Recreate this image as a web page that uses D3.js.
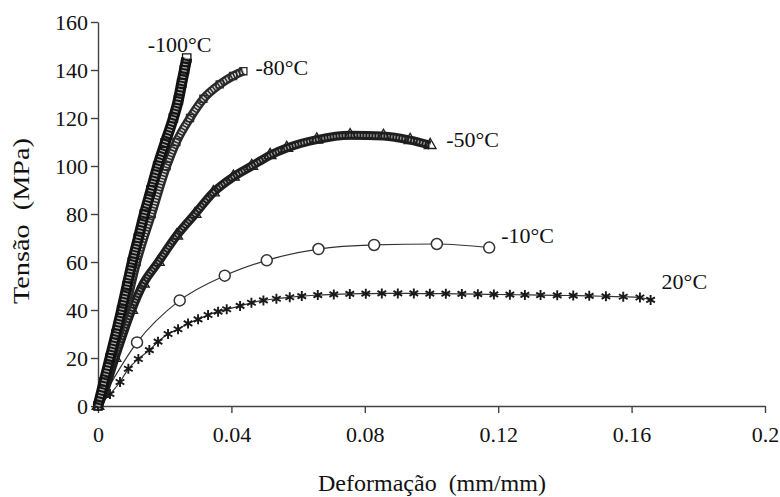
<!DOCTYPE html>
<html>
<head>
<meta charset="utf-8">
<script src="https://cdn.jsdelivr.net/npm/d3@7"></script>
<style>
  html, body { margin: 0; padding: 0; background: #fff; }
  svg { display: block; font-family: "Liberation Serif", "DejaVu Serif", serif; }
</style>
</head>
<body>
<svg id="chart" width="780" height="497"></svg>
<script>
// strain (mm/mm) and stress (MPa)
var strainM100 = [0, 0.0018, 0.0036, 0.0054, 0.0071, 0.0087, 0.0103, 0.0121, 0.0139, 0.0159, 0.0179, 0.0201, 0.0226, 0.0241, 0.0251, 0.0259, 0.0266];
var stressM100 = [0, 10, 20, 30, 40, 50, 60, 70, 80, 90, 100, 109.5, 120, 127.5, 134.5, 140, 145];

var strainM80 = [0, 0.0041, 0.0081, 0.0116, 0.0161, 0.0206, 0.0235, 0.0276, 0.0316, 0.0365, 0.0405, 0.0436];
var stressM80 = [0, 20, 40, 60, 80, 100, 110, 120, 128, 134, 137.5, 139.5];

var strainM50 = [0, 0.0016, 0.0051, 0.0101, 0.0136, 0.0181, 0.0236, 0.0291, 0.0346, 0.0406, 0.0461, 0.0516, 0.0566, 0.0656, 0.0756, 0.0856, 0.0936, 0.0996];
var stressM50 = [0, 5, 20, 40, 51, 60, 71, 80, 89, 95.5, 100, 104.5, 107.5, 111, 112.8, 112.5, 110.8, 108.7];

var strainM10 = [0, 0.0117, 0.0245, 0.038, 0.0506, 0.0661, 0.0828, 0.1016, 0.1173];
var stressM10 = [0, 26.5, 44, 54.3, 60.7, 65.4, 67.1, 67.5, 66];

var strain20 = [0, 0.0036, 0.0066, 0.0091, 0.0121, 0.0154, 0.018, 0.021, 0.024, 0.027, 0.030, 0.033, 0.036, 0.0386, 0.0426, 0.046, 0.0496, 0.0535, 0.0575, 0.0611, 0.0659, 0.0707, 0.0755, 0.0803, 0.0851, 0.0899, 0.0947, 0.0995, 0.1043, 0.1091, 0.1139, 0.1187, 0.1235, 0.128, 0.1327, 0.1377, 0.1425, 0.1473, 0.1523, 0.1575, 0.1625, 0.1657];
var stress20 = [0, 5, 10, 15.5, 19.6, 23.3, 26.8, 30, 32, 34.4, 36.1, 37.9, 39.3, 40.3, 41.7, 43, 44, 44.7, 45.3, 45.8, 46.2, 46.5, 46.7, 46.8, 46.9, 46.9, 46.9, 46.8, 46.8, 46.7, 46.6, 46.5, 46.4, 46.3, 46.2, 46.1, 46, 45.9, 45.7, 45.5, 45.2, 44.2];

var seriesNames = ["-100°C", "-80°C", "-50°C", "-10°C", "20°C"];

var xTicks = [0, 0.04, 0.08, 0.12, 0.16, 0.2];
var xTickLabels = ["0", "0.04", "0.08", "0.12", "0.16", "0.2"];
var yTicks = [0, 20, 40, 60, 80, 100, 120, 140, 160];

var svg = d3.select("#chart");

var x = d3.scaleLinear().domain([0, 0.2]).range([98, 765]);
var y = d3.scaleLinear().domain([0, 160]).range([406, 22]);

function pairs(xs, ys) {
    return xs.map(function (v, i) { return [v, ys[i]]; });
}

var line = d3.line()
    .x(function (d) { return x(d[0]); })
    .y(function (d) { return y(d[1]); })
    .curve(d3.curveMonotoneX);

// axes
var xAxis = svg.append("g")
    .attr("transform", "translate(0," + y(0) + ")")
    .call(d3.axisBottom(x).tickValues(xTicks)
        .tickFormat(function (d, i) { return xTickLabels[i]; })
        .tickSize(7).tickSizeOuter(0).tickPadding(13));

var yAxis = svg.append("g")
    .attr("transform", "translate(" + x(0) + ",0)")
    .call(d3.axisLeft(y).tickValues(yTicks).tickSize(7).tickSizeOuter(0).tickPadding(3));

[xAxis, yAxis].forEach(function (g) {
    g.selectAll("path, line").attr("stroke", "#444").attr("stroke-width", 1.4);
    g.selectAll("text").attr("fill", "#111").style("font-size", "22px")
        .style("font-family", "'Liberation Serif', serif");
});

// titles
svg.append("text")
    .attr("x", 432).attr("y", 491)
    .attr("text-anchor", "middle")
    .style("font-size", "24px").attr("fill", "#111")
    .attr("xml:space", "preserve")
    .text("Deformação  (mm/mm)");

svg.append("text")
    .attr("transform", "translate(29,221) rotate(-90)")
    .attr("text-anchor", "middle")
    .style("font-size", "24px").attr("fill", "#111")
    .attr("xml:space", "preserve")
    .attr("textLength", 166).attr("lengthAdjust", "spacingAndGlyphs")
    .text("Tensão  (MPa)");

// dense bands (rows of overlapping markers)
function band(data, cfg) {
    var g = svg.append("g");
    g.append("path").datum(data).attr("d", line)
        .attr("fill", "none").attr("stroke", cfg.dark)
        .attr("stroke-width", cfg.width).attr("stroke-linejoin", "round");
    g.append("path").datum(data).attr("d", line)
        .attr("fill", "none").attr("stroke", "#fff").attr("stroke-opacity", cfg.light)
        .attr("stroke-width", cfg.inner).attr("stroke-dasharray", cfg.dash);
    g.selectAll("path.m").data(data).enter().append("path")
        .attr("class", "m")
        .attr("transform", function (d) { return "translate(" + x(d[0]) + "," + y(d[1]) + ")"; })
        .attr("d", d3.symbol().type(cfg.symbol).size(cfg.size))
        .attr("fill", "none").attr("stroke", cfg.dark).attr("stroke-width", 1.3);
}

var d20 = pairs(strain20, stress20);
var dM10 = pairs(strainM10, stressM10);
var dM50 = pairs(strainM50, stressM50);
var dM80 = pairs(strainM80, stressM80);
var dM100 = pairs(strainM100, stressM100);

// 20°C: thin line with asterisks
svg.append("path").datum(d20).attr("d", line)
    .attr("fill", "none").attr("stroke", "#333").attr("stroke-width", 1.2);
var asterisk = d3.symbolAsterisk || d3.symbolTimes;
svg.selectAll("path.star").data(d20).enter().append("path")
    .attr("class", "star")
    .attr("transform", function (d) { return "translate(" + x(d[0]) + "," + y(d[1]) + ")"; })
    .attr("d", d3.symbol().type(asterisk).size(70))
    .attr("fill", "none").attr("stroke", "#1a1a1a").attr("stroke-width", 1.9);

// -10°C: thin line with open circles
svg.append("path").datum(dM10).attr("d", line)
    .attr("fill", "none").attr("stroke", "#333").attr("stroke-width", 1.2);
svg.selectAll("circle.c").data(dM10.slice(1)).enter().append("circle")
    .attr("class", "c")
    .attr("cx", function (d) { return x(d[0]); })
    .attr("cy", function (d) { return y(d[1]); })
    .attr("r", 5.5)
    .attr("fill", "#fff").attr("stroke", "#333").attr("stroke-width", 1.5);

band(dM50, { dark: "#1e1e1e", width: 9, inner: 3, light: 0.6, dash: "1.2 1.8", symbol: d3.symbolTriangle, size: 60 });
band(dM80, { dark: "#2a2a2a", width: 9, inner: 4, light: 0.8, dash: "1.5 1.5", symbol: d3.symbolSquare, size: 50 });
band(dM100, { dark: "#121212", width: 11, inner: 5, light: 0.65, dash: "1.3 1.9", symbol: d3.symbolSquare, size: 70 });

// series labels next to the last point
var ends = [dM100, dM80, dM50, dM10, d20];
var labelOffsets = [[-39, -6], [12, 4], [16, 2], [12, -5], [11, -11]];
svg.selectAll("text.lbl").data(seriesNames).enter().append("text")
    .attr("class", "lbl")
    .attr("x", function (d, i) { var p = ends[i][ends[i].length - 1]; return x(p[0]) + labelOffsets[i][0]; })
    .attr("y", function (d, i) { var p = ends[i][ends[i].length - 1]; return y(p[1]) + labelOffsets[i][1]; })
    .style("font-size", "22px").attr("fill", "#111")
    .text(function (d) { return d; });
</script>
</body>
</html>
